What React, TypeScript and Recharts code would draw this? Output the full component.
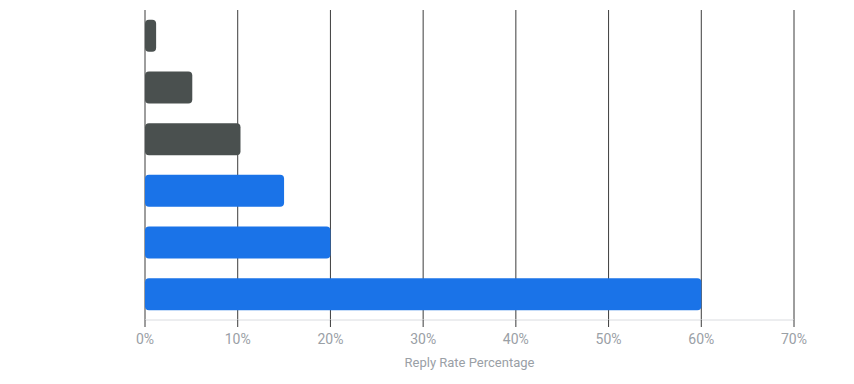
import { BarChart, Bar, XAxis, YAxis, CartesianGrid, Cell } from 'recharts';

const channels = ['Channel A', 'Channel B', 'Channel C', 'Channel D', 'Channel E', 'Channel F'];
const replyRates = [1.2, 5.1, 10.3, 15, 20, 60];
const barColors = ['#4a504f', '#4a504f', '#4a504f', '#1a73e8', '#1a73e8', '#1a73e8'];
const xTicks = [0, 10, 20, 30, 40, 50, 60, 70];

const data = channels.map((name, i) => ({ name, rate: replyRates[i] }));

export default function App() {
  return (
    <div style={{ position: 'absolute', left: 0, top: 0, fontFamily: 'Roboto, sans-serif' }}>
      <BarChart
        width={854}
        height={384}
        data={data}
        layout="vertical"
        margin={{ top: 10, right: 60, bottom: 0, left: 145 }}
        barCategoryGap="19%"
      >
        <CartesianGrid horizontal={false} vertical stroke="#3c3c3c" strokeWidth={1} />
        <XAxis
          type="number"
          domain={[0, 70]}
          ticks={xTicks}
          tickFormatter={(v) => `${v}%`}
          height={64}
          axisLine={{ stroke: '#dadce0' }}
          tickLine={{ stroke: '#3c3c3c' }}
          tickSize={7}
          tickMargin={7}
          tick={{ fill: '#9aa0a6', fontSize: 14 }}
          label={{
            value: 'Reply Rate Percentage',
            position: 'insideBottom',
            offset: 17,
            fill: '#9aa0a6',
            fontSize: 13,
          }}
        />
        <YAxis type="category" dataKey="name" hide />
        <Bar dataKey="rate" radius={[4, 4, 4, 4]} isAnimationActive={false}>
          {data.map((d, i) => (
            <Cell key={d.name} fill={barColors[i]} />
          ))}
        </Bar>
      </BarChart>
    </div>
  );
}
